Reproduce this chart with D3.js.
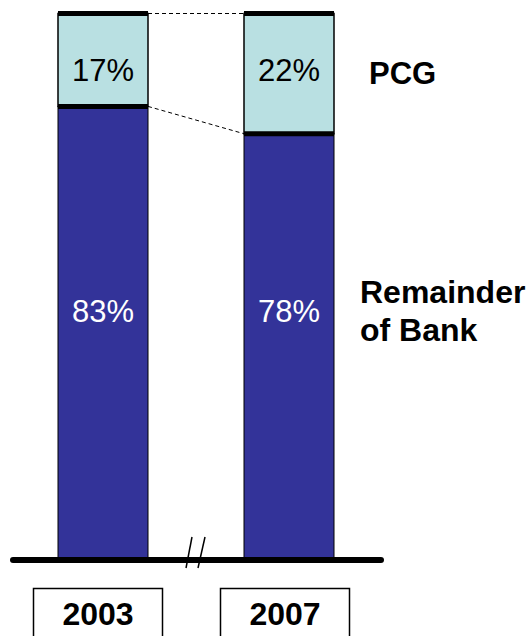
<!DOCTYPE html>
<html>
<head>
<meta charset="utf-8">
<script src="https://cdn.jsdelivr.net/npm/d3@7"></script>
<style>
  html, body { margin: 0; padding: 0; background: #fff; }
  svg { display: block; }
  text { font-family: "Liberation Sans", Arial, sans-serif; }
</style>
</head>
<body>
<svg id="chart" width="531" height="636"></svg>
<script>
// Share of the bank: PCG vs. the remainder, by year
const years = ["2003", "2007"];
const pcg = [17, 22];
const remainder = [83, 78];
const segmentNames = ["Remainder\nof Bank", "PCG"];

const svg = d3.select("#chart");
const baseY = 560, topY = 13.5;

const x = d3.scaleOrdinal().domain(years).range([58, 244]);
const barW = 90;
const y = d3.scaleLinear().domain([0, 100]).range([baseY, topY]);

const dark = "#333399", light = "#b9e0e2";

// Bars
years.forEach((yr, i) => {
  const x0 = x(yr);
  const rem = remainder[i], p = pcg[i];
  // remainder segment
  svg.append("rect")
    .attr("x", x0).attr("y", y(rem))
    .attr("width", barW).attr("height", y(0) - y(rem))
    .attr("fill", dark).attr("stroke", "#000").attr("stroke-width", 1);
  // PCG segment
  svg.append("rect")
    .attr("x", x0).attr("y", y(rem + p))
    .attr("width", barW).attr("height", y(rem) - y(rem + p))
    .attr("fill", light).attr("stroke", "#000").attr("stroke-width", 1.5);
  // thick edges at the segment boundary and bar top
  [rem, rem + p].forEach(v => {
    svg.append("line")
      .attr("x1", x0).attr("x2", x0 + barW)
      .attr("y1", y(v)).attr("y2", y(v))
      .attr("stroke", "#000").attr("stroke-width", 5);
  });
  // value labels
  svg.append("text")
    .attr("x", x0 + barW / 2).attr("y", 81)
    .attr("text-anchor", "middle").attr("font-size", 31)
    .attr("fill", "#000").text(p + "%");
  svg.append("text")
    .attr("x", x0 + barW / 2).attr("y", 322)
    .attr("text-anchor", "middle").attr("font-size", 31)
    .attr("fill", "#fff").text(rem + "%");
});

// Dashed connectors between bars
[[100, 100], [remainder[0], remainder[1]]].forEach(([a, b]) => {
  svg.append("line")
    .attr("x1", x(years[0]) + barW).attr("y1", y(a))
    .attr("x2", x(years[1])).attr("y2", y(b))
    .attr("stroke", "#000").attr("stroke-width", 1)
    .attr("stroke-dasharray", "4,3");
});

// Baseline
svg.append("line")
  .attr("x1", 13).attr("x2", 381)
  .attr("y1", baseY).attr("y2", baseY)
  .attr("stroke", "#000").attr("stroke-width", 6)
  .attr("stroke-linecap", "round");

// Axis break marks
[[192, 186], [205, 198]].forEach(([xt, xb]) => {
  svg.append("line")
    .attr("x1", xt).attr("y1", 537)
    .attr("x2", xb).attr("y2", 568)
    .attr("stroke", "#000").attr("stroke-width", 1.5);
});

// Segment labels
svg.append("text")
  .attr("x", 369).attr("y", 84)
  .attr("font-size", 31).attr("font-weight", "bold")
  .text(segmentNames[1]);
segmentNames[0].split("\n").forEach((line, j) => {
  svg.append("text")
    .attr("x", 360).attr("y", 303 + j * 38)
    .attr("font-size", 32).attr("font-weight", "bold")
    .text(line);
});

// Year boxes
const boxX = d3.scaleOrdinal().domain(years).range([33, 220]);
years.forEach(yr => {
  svg.append("rect")
    .attr("x", boxX(yr) + 0.5).attr("y", 588.5)
    .attr("width", 129).attr("height", 60)
    .attr("fill", "#fff").attr("stroke", "#000").attr("stroke-width", 1.5);
  svg.append("text")
    .attr("x", boxX(yr) + 65).attr("y", 625)
    .attr("text-anchor", "middle").attr("font-size", 32).attr("font-weight", "bold")
    .text(yr);
});
</script>
</body>
</html>
